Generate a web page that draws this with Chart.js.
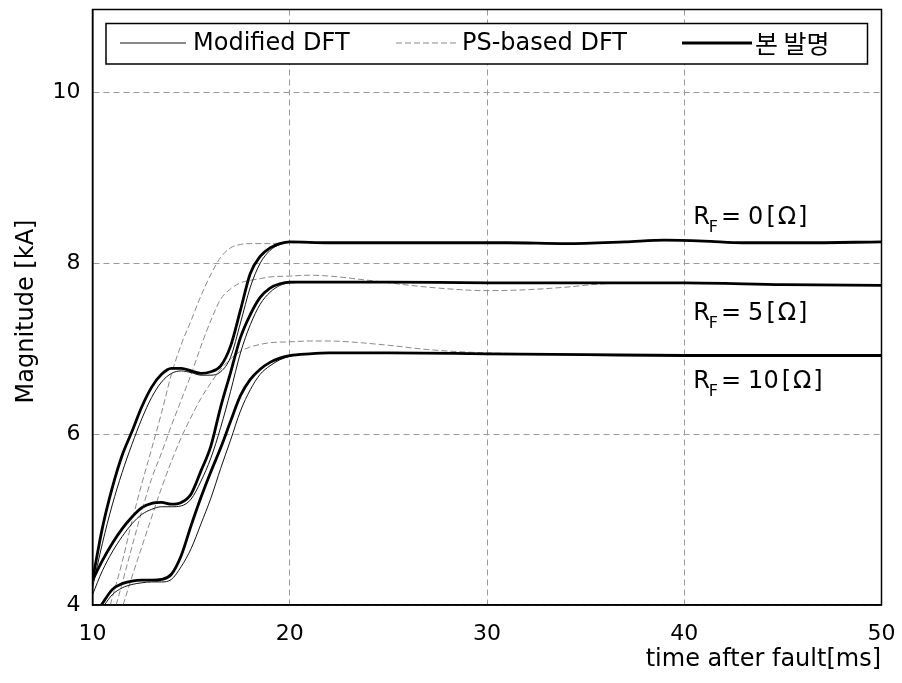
<!DOCTYPE html>
<html>
<head>
<meta charset="utf-8">
<script src="https://cdn.jsdelivr.net/npm/chart.js@4.4.1/dist/chart.umd.min.js"></script>
<style>
  html, body { margin: 0; padding: 0; background: #fff; }
  #wrap { width: 902px; height: 683px; position: relative; }
</style>
</head>
<body>
<div id="wrap"><canvas id="c" width="902" height="683"></canvas></div>
<script>
// ---------------- data ----------------
const xTicks = [10, 20, 30, 40, 50];
const yTicks = [4, 6, 8, 10];
const legendLabels = ['Modified DFT', 'PS-based DFT', '본 발명'];
const annoLabels = ['0', '5', '10'];
const annoValues = [8.56, 7.44, 6.64];

// 본 발명 (proposed) – thick
const tPropR0 = [10,10.5,11,11.5,12,12.5,13,13.5,14,14.5,15,15.5,16,16.5,17,17.5,18,18.5,19,19.5,20,22,25,28,31,34,37,39,41,43,46,50];
const vPropR0 = [4.29,4.9,5.37,5.75,6.03,6.32,6.55,6.7,6.77,6.77,6.74,6.71,6.73,6.8,7.03,7.45,7.88,8.08,8.18,8.23,8.25,8.24,8.24,8.24,8.24,8.23,8.25,8.27,8.26,8.24,8.24,8.25];
const tPropR5 = [10,10.5,11,11.5,12,12.5,13,13.5,14,14.5,15,15.5,16,16.5,17,17.5,18,18.5,19,19.5,20,22,25,30,35,40,45,50];
const vPropR5 = [4.29,4.52,4.72,4.89,5.03,5.14,5.19,5.2,5.18,5.2,5.3,5.57,5.86,6.32,6.72,7.13,7.4,7.6,7.71,7.76,7.78,7.78,7.78,7.77,7.77,7.77,7.75,7.74];
const tPropR10 = [10.45,11,11.5,12,12.5,13,13.5,14,14.5,15,15.5,16,16.5,17,17.5,18,18.5,19,19.5,20,21,22,25,30,35,40,45,50];
const vPropR10 = [4.0,4.18,4.25,4.28,4.29,4.29,4.3,4.36,4.58,4.93,5.26,5.56,5.84,6.15,6.45,6.64,6.76,6.84,6.89,6.92,6.94,6.95,6.95,6.94,6.93,6.92,6.92,6.92];

// Modified DFT – thin solid
const tModR0 = [10,10.5,11,11.5,12,12.5,13,13.5,14,14.5,15,15.5,16,16.5,17,17.5,18,18.5,19,19.5,20,22,25,28,31,34,37,39,41,43,46,50];
const vModR0 = [4.2,4.72,5.17,5.55,5.88,6.18,6.43,6.61,6.71,6.74,6.72,6.69,6.69,6.73,6.9,7.3,7.72,8.0,8.15,8.22,8.25,8.24,8.24,8.24,8.24,8.23,8.25,8.27,8.26,8.24,8.24,8.25];
const tModR5 = [10,10.5,11,11.5,12,12.5,13,13.5,14,14.5,15,15.5,16,16.5,17,17.5,18,18.5,19,19.5,20,22,25,30,35,40,45,50];
const vModR5 = [4.12,4.4,4.62,4.8,4.95,5.06,5.12,5.15,5.15,5.16,5.24,5.45,5.72,6.08,6.5,6.95,7.28,7.52,7.66,7.74,7.77,7.78,7.78,7.77,7.77,7.77,7.75,7.74];
const tModR10 = [10.6,11,11.5,12,12.5,13,13.5,14,14.5,15,15.5,16,16.5,17,17.5,18,18.5,19,19.5,20,21,22,25,30,35,40,45,50];
const vModR10 = [4.0,4.12,4.2,4.24,4.26,4.27,4.27,4.3,4.45,4.66,4.95,5.25,5.6,5.93,6.27,6.52,6.7,6.8,6.87,6.91,6.94,6.95,6.95,6.94,6.93,6.92,6.92,6.92];

// PS-based DFT – dashed
const tPsR0 = [10.9,11.5,12,12.5,13,13.5,14,14.5,15,15.5,16,16.5,17,17.5,18,19,20,22,25,28,31,34,37,39,41,43,46,50];
const vPsR0 = [4.0,4.5,4.98,5.42,5.83,6.25,6.7,7.05,7.33,7.62,7.87,8.07,8.18,8.22,8.23,8.23,8.24,8.24,8.24,8.24,8.24,8.23,8.25,8.27,8.26,8.24,8.24,8.25];
const tPsR5 = [11.2,11.5,12,12.5,13,13.5,14,14.5,15,15.5,16,16.5,17,17.5,18,18.5,19,20,21,22,24,27,30,32,34,36,40,45,50];
const vPsR5 = [4.0,4.25,4.68,5.1,5.48,5.78,6.1,6.4,6.7,7.03,7.33,7.58,7.7,7.77,7.8,7.82,7.84,7.85,7.86,7.85,7.8,7.72,7.68,7.69,7.72,7.76,7.77,7.75,7.74];
const tPsR10 = [11.55,12,12.5,13,13.5,14,14.5,15,15.5,16,16.5,17,17.5,18,18.5,19,20,21,22,23,25,27,29,32,40,50];
const vPsR10 = [4.0,4.33,4.68,5.03,5.37,5.68,5.96,6.2,6.42,6.6,6.76,6.88,6.97,7.02,7.05,7.07,7.08,7.09,7.09,7.08,7.04,6.99,6.96,6.94,6.92,6.92];

// ---------------- helpers ----------------
const pts = (t, v) => t.map((x, i) => ({ x: x, y: v[i] }));
const FONT = '"DejaVu Sans", "Noto Sans", sans-serif';
const KFONT = '"Noto Sans CJK KR", "DejaVu Sans", sans-serif';

const thick = (t, v) => ({ data: pts(t, v), borderColor: '#000', borderWidth: 2.8, pointRadius: 0, cubicInterpolationMode: 'monotone', fill: false, order: 0 });
const thin  = (t, v) => ({ data: pts(t, v), borderColor: '#111', borderWidth: 1, pointRadius: 0, cubicInterpolationMode: 'monotone', fill: false, order: 1 });
const dash  = (t, v) => ({ data: pts(t, v), borderColor: '#8a8a8a', borderWidth: 1, borderDash: [6, 3], pointRadius: 0, cubicInterpolationMode: 'monotone', fill: false, order: 2 });

// ---------------- plugins ----------------
const framePlugin = {
  id: 'frame',
  afterDraw(chart) {
    const { ctx, chartArea: a, scales } = chart;
    ctx.save();
    ctx.strokeStyle = '#000';
    ctx.lineWidth = 1.5;
    ctx.setLineDash([]);
    ctx.strokeRect(a.left, a.top, a.right - a.left, a.bottom - a.top);

    // legend box
    const lx = 106, ly = 23.5, lw = 761.5, lh = 40.5;
    ctx.fillStyle = '#fff';
    ctx.fillRect(lx, ly, lw, lh);
    ctx.lineWidth = 1.5;
    ctx.strokeRect(lx, ly, lw, lh);
    const cy = 43;
    ctx.lineWidth = 1; ctx.strokeStyle = '#111';
    ctx.beginPath(); ctx.moveTo(120, cy); ctx.lineTo(186, cy); ctx.stroke();
    ctx.strokeStyle = '#8a8a8a'; ctx.setLineDash([6, 3]);
    ctx.beginPath(); ctx.moveTo(396, cy); ctx.lineTo(456, cy); ctx.stroke();
    ctx.setLineDash([]);
    ctx.strokeStyle = '#000'; ctx.lineWidth = 2.8;
    ctx.beginPath(); ctx.moveTo(682, cy); ctx.lineTo(752, cy); ctx.stroke();
    ctx.fillStyle = '#000';
    ctx.textBaseline = 'middle';
    ctx.textAlign = 'left';
    ctx.font = '24px ' + FONT;
    ctx.fillText(legendLabels[0], 193, cy + 1);
    ctx.fillText(legendLabels[1], 462, cy + 1);
    ctx.font = '25px ' + KFONT;
    ctx.fillText(legendLabels[2], 755, cy);

    // R_F annotations
    const xs = scales.x, ys = scales.y;
    const ax = xs.getPixelForValue(40.45);
    annoLabels.forEach((lab, i) => {
      const y = ys.getPixelForValue(annoValues[i]);
      let x = ax;
      ctx.textBaseline = 'alphabetic';
      ctx.font = '24px ' + FONT;
      ctx.fillText('R', x, y + 9);
      x += ctx.measureText('R').width - 1;
      ctx.font = '16px ' + FONT;
      ctx.fillText('F', x, y + 17);
      x += ctx.measureText('F').width + 3;
      ctx.font = '24px ' + FONT;
      ctx.fillText('=', x, y + 9);
      x += ctx.measureText('=').width + 7;
      ctx.fillText(lab, x, y + 9);
      x += ctx.measureText(lab).width + 3;
      ctx.fillText('[', x, y + 9);
      x += ctx.measureText('[').width + 2;
      ctx.fillText('Ω', x, y + 9);
      x += ctx.measureText('Ω').width + 2;
      ctx.fillText(']', x, y + 9);
    });

    // axis titles
    ctx.font = '24px ' + FONT;
    ctx.textAlign = 'right';
    ctx.textBaseline = 'alphabetic';
    ctx.fillText('time after fault[ms]', 881, 666);
    ctx.save();
    ctx.translate(33, 311.5);
    ctx.rotate(-Math.PI / 2);
    ctx.textAlign = 'center';
    ctx.fillText('Magnitude [kA]', 0, 0);
    ctx.restore();
    ctx.restore();
  }
};

// ---------------- chart ----------------
new Chart(document.getElementById('c'), {
  type: 'line',
  data: {
    datasets: [
      thick(tPropR0, vPropR0), thick(tPropR5, vPropR5), thick(tPropR10, vPropR10),
      thin(tModR0, vModR0), thin(tModR5, vModR5), thin(tModR10, vModR10),
      dash(tPsR0, vPsR0), dash(tPsR5, vPsR5), dash(tPsR10, vPsR10)
    ]
  },
  options: {
    responsive: false,
    animation: false,
    devicePixelRatio: 1,
    layout: { autoPadding: false, padding: { left: 0, right: 20.5, top: 9.5, bottom: 0 } },
    plugins: { legend: { display: false }, tooltip: { enabled: false } },
    scales: {
      x: {
        type: 'linear', min: 10, max: 50,
        afterBuildTicks: s => { s.ticks = xTicks.map(v => ({ value: v })); },
        afterFit: s => { s.height = 78; s.paddingLeft = 0; s.paddingRight = 0; s.paddingTop = 0; s.paddingBottom = 0; },
        ticks: { font: { family: FONT, size: 22 }, color: '#000', padding: 16, maxRotation: 0 },
        grid: { color: '#9a9a9a', lineWidth: 1, drawTicks: false },
        border: { display: true, color: '#000', width: 1.5, dash: [6, 4] }
      },
      y: {
        type: 'linear', min: 4, max: 10.97,
        afterBuildTicks: s => { s.ticks = yTicks.map(v => ({ value: v })); },
        afterFit: s => { s.width = 92.5; s.paddingLeft = 0; s.paddingRight = 0; s.paddingTop = 0; s.paddingBottom = 0; },
        ticks: { font: { family: FONT, size: 22 }, color: '#000', padding: 12 },
        grid: { color: '#9a9a9a', lineWidth: 1, drawTicks: false },
        border: { display: true, color: '#000', width: 1.5, dash: [6, 4] }
      }
    }
  },
  plugins: [framePlugin]
});
</script>
</body>
</html>
